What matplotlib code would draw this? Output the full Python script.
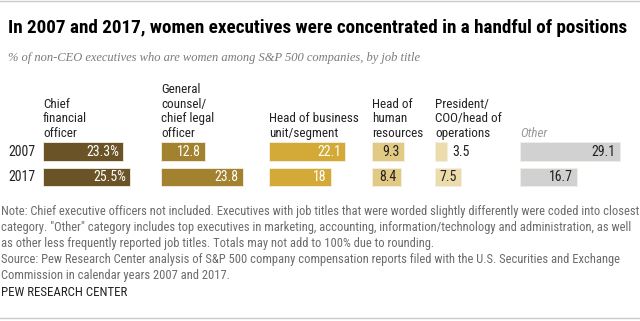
import matplotlib.pyplot as plt
from matplotlib.lines import Line2D

plt.rcParams['font.family'] = ['Roboto Condensed', 'DejaVu Sans']

# data
years = ['2007', '2017']
titles = ['Chief\nfinancial\nofficer', 'General\ncounsel/\nchief legal\nofficer',
          'Head of business\nunit/segment', 'Head of\nhuman\nresources',
          'President/\nCOO/head of\noperations', 'Other']
vals_2007 = [23.3, 12.8, 22.1, 9.3, 3.5, 29.1]
vals_2017 = [25.5, 23.8, 18, 8.4, 7.5, 16.7]
colors = ['#6a5427', '#a3822f', '#d3aa37', '#e2ca85', '#eddcab', '#d1d1d1']
text_colors = ['white', 'white', 'white', '#222222', '#222222', '#222222']

W, H = 640, 321
fig = plt.figure(figsize=(6.4, 3.21), dpi=100)

def fx(x):
    return x / W

def fy(y):
    return 1 - y / H

# thin rules at top and bottom
fig.add_artist(Line2D([0, 1], [fy(1), fy(1)], color='#c9c9c9', lw=1))
fig.add_artist(Line2D([0, 1], [fy(318), fy(318)], color='#c9c9c9', lw=1))

fig.text(fx(8), fy(33), 'In 2007 and 2017, women executives were concentrated in a handful of positions',
         fontsize=13.8, fontweight='bold', va='baseline', color='black')
fig.text(fx(8), fy(61), '% of non-CEO executives who are women among S&P 500 companies, by job title',
         fontsize=9, style='italic', family='Liberation Serif', color='#7a7a7a', va='baseline')

px_per_unit = 3.43
starts = [43, 161, 269, 372, 435, 520]
ends = [155, 262, 365, 430, 515, 640]

for i, yr in enumerate(years):
    fig.text(fx(8), fy([151.5, 177][i]), yr, fontsize=10, va='center', color='#222222')

for k in range(len(titles)):
    x0, x1 = starts[k], ends[k]
    ax = fig.add_axes([fx(x0), fy(189.75), fx(x1 - x0), (51) / H])
    ax.set_xlim(0, (x1 - x0) / px_per_unit)
    ax.set_ylim(1.5, -0.5)
    ax.axis('off')
    vals = [vals_2007[k], vals_2017[k]]
    ax.barh([0, 1], vals, height=0.73, color=colors[k], edgecolor='#f3efe4', linewidth=0.6)
    for i, v in enumerate(vals):
        lab = f'{v:g}' + ('%' if k == 0 else '')
        if v < 5:
            # too short to hold its label, so the number sits to the right
            ax.annotate(lab, (v, i), xytext=(5, 0), textcoords='offset pixels',
                        ha='left', va='center', fontsize=10, color='#222222')
        else:
            ax.annotate(lab, (v, i), xytext=(-4, 0), textcoords='offset pixels',
                        ha='right', va='center', fontsize=10, color=text_colors[k])
    if titles[k] == 'Other':
        fig.text(fx(x0), fy(137), titles[k], fontsize=9.4, style='italic', color='#9a9a9a',
                 va='baseline', linespacing=1.15)
    else:
        fig.text(fx(x0), fy(137), titles[k], fontsize=9.4, color='#222222',
                 va='baseline', linespacing=1.15)

note = ('Note: Chief executive officers not included. Executives with job titles that were worded slightly differently were coded into closest\n'
        'category. "Other" category includes top executives in marketing, accounting, information/technology and administration, as well\n'
        'as other less frequently reported job titles. Totals may not add to 100% due to rounding.\n'
        'Source: Pew Research Center analysis of S&P 500 company compensation reports filed with the U.S. Securities and Exchange\n'
        'Commission in calendar years 2007 and 2017.')
fig.text(fx(1), fy(279), note, fontsize=9, color='#6b6b6b', va='baseline', linespacing=1.3)
fig.text(fx(1), fy(296), 'PEW RESEARCH CENTER', fontsize=9.3, color='#222222', va='baseline')

fig.savefig('out.png', dpi=100)
